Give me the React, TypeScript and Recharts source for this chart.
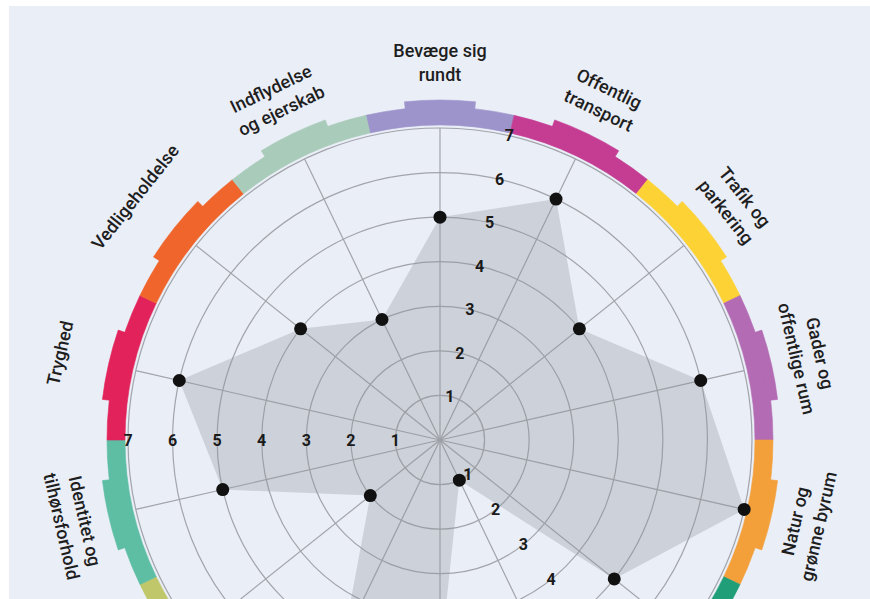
import React from 'react';
import { RadarChart, Radar, PolarGrid, PolarAngleAxis, PolarRadiusAxis, Sector } from 'recharts';

const CATEGORIES = [
  'Bevæge sig rundt',
  'Offentlig transport',
  'Trafik og parkering',
  'Gader og offentlige rum',
  'Natur og grønne byrum',
  'Leg og fritid',
  'Faciliteter og tilbud',
  'Arbejde og lokal økonomi',
  'Boliger og fællesskab',
  'Sociale relationer',
  'Identitet og tilhørsforhold',
  'Tryghed',
  'Vedligeholdelse',
  'Indflydelse og ejerskab',
];

const LABEL_LINES = [
  ['Bevæge sig', 'rundt'],
  ['Offentlig', 'transport'],
  ['Trafik og', 'parkering'],
  ['Gader og', 'offentlige rum'],
  ['Natur og', 'grønne byrum'],
  ['Leg og', 'fritid'],
  ['Faciliteter', 'og tilbud'],
  ['Arbejde og', 'lokal økonomi'],
  ['Boliger og', 'fællesskab'],
  ['Sociale', 'relationer'],
  ['Identitet og', 'tilhørsforhold'],
  ['Tryghed'],
  ['Vedligeholdelse'],
  ['Indflydelse', 'og ejerskab'],
];

const SCORES = [5, 6, 4, 6, 7, 5, 1, 5, 5, 2, 5, 6, 4, 3];

const COLORS = [
  '#9c94cb',
  '#c53d93',
  '#fdd235',
  '#b36bb4',
  '#f3a03b',
  '#1f9e78',
  '#3b8fc6',
  '#2f6fb2',
  '#8a5ba6',
  '#c0c76b',
  '#5dbea4',
  '#e2235b',
  '#f0652b',
  '#a9cbba',
];

const RADIUS_TICKS = [0, 1, 2, 3, 4, 5, 6, 7];
// angles (degrees) along which the scale numbers are printed; the first is the axis itself
const RADIUS_LABEL_ANGLES = [77.14, 180, -51.43];

const CX = 440;
const CY = 440;
const OUTER = 312;
const FONT = 'Roboto, "DejaVu Sans", sans-serif';

const data = CATEGORIES.map((name, i) => ({ name, score: SCORES[i] }));

function AngleTick(props: any) {
  const { payload, index } = props;
  const cx = typeof props.cx === 'number' ? props.cx : CX;
  const cy = typeof props.cy === 'number' ? props.cy : CY;
  const n = CATEGORIES.length;
  const step = 360 / n;
  const theta = typeof payload?.coordinate === 'number' ? payload.coordinate : 90 - index * step;
  const color = COLORS[index % COLORS.length];
  const lines = LABEL_LINES[index] ?? [String(payload?.value ?? '')];
  const norm = ((theta % 360) + 360) % 360;
  const top = norm < 180;
  const rot = top ? 90 - theta : 270 - theta;
  const rad = (theta * Math.PI) / 180;
  return (
    <g>
      <Sector
        cx={cx}
        cy={cy}
        innerRadius={315}
        outerRadius={333}
        startAngle={theta - step / 2}
        endAngle={theta + step / 2}
        fill={color}
        stroke={color}
        strokeWidth={0.6}
      />
      <Sector
        cx={cx}
        cy={cy}
        innerRadius={330}
        outerRadius={340}
        startAngle={theta - 6}
        endAngle={theta + 6}
        fill={color}
        stroke={color}
        strokeWidth={0.6}
      />
      {lines.map((ln: string, j: number) => {
        const r = top ? 390 - j * 24 : 364 + j * 24;
        const px = cx + r * Math.cos(rad);
        const py = cy - r * Math.sin(rad);
        return (
          <text
            key={j}
            x={0}
            y={0}
            transform={`translate(${px},${py}) rotate(${rot})`}
            textAnchor="middle"
            dominantBaseline="central"
            fontFamily={FONT}
            fontWeight={500}
            fontSize={18}
            fill="#1e1e1e"
          >
            {ln}
          </text>
        );
      })}
    </g>
  );
}

function RadiusTick(props: any) {
  const { x, y, payload } = props;
  if (!payload || payload.value === 0) return <g />;
  const cx = typeof props.cx === 'number' ? props.cx : CX;
  const cy = typeof props.cy === 'number' ? props.cy : CY;
  const r = Math.hypot(x - cx, y - cy);
  return (
    <g>
      {RADIUS_LABEL_ANGLES.map((a, i) => {
        const rad = (a * Math.PI) / 180;
        const px = i === 0 ? x : cx + r * Math.cos(rad);
        const py = i === 0 ? y : cy - r * Math.sin(rad);
        return (
          <text
            key={i}
            x={px}
            y={py}
            textAnchor="middle"
            dominantBaseline="central"
            fontFamily={FONT}
            fontWeight={700}
            fontSize={16}
            fill="#1a1a1a"
          >
            {payload.value}
          </text>
        );
      })}
    </g>
  );
}

export default function App() {
  return (
    <div style={{ position: 'absolute', left: 0, top: 0, width: 870, height: 599, overflow: 'hidden', background: '#ffffff' }}>
      <div style={{ position: 'absolute', left: 9, top: 6, width: 861, height: 593, background: '#eaeef7' }} />
      <div style={{ position: 'absolute', left: 0, top: 0 }}>
        <RadarChart
          width={870}
          height={880}
          cx={CX}
          cy={CY}
          outerRadius={OUTER}
          data={data}
          margin={{ top: 0, right: 0, bottom: 0, left: 0 }}
        >
          <PolarGrid gridType="circle" stroke="#a2a4aa" strokeWidth={1.2} />
          <PolarAngleAxis dataKey="name" tick={AngleTick} axisLine={false} tickLine={false} />
          <Radar
            dataKey="score"
            fill="#8f949c"
            fillOpacity={0.32}
            stroke="none"
            dot={{ r: 6.5, fill: '#111111', stroke: 'none', fillOpacity: 1 }}
            isAnimationActive={false}
          />
          <PolarRadiusAxis
            angle={RADIUS_LABEL_ANGLES[0]}
            type="number"
            domain={[0, 7]}
            ticks={RADIUS_TICKS as any}
            tickCount={8}
            axisLine={false}
            tickLine={false}
            tick={RadiusTick}
          />
        </RadarChart>
      </div>
    </div>
  );
}
